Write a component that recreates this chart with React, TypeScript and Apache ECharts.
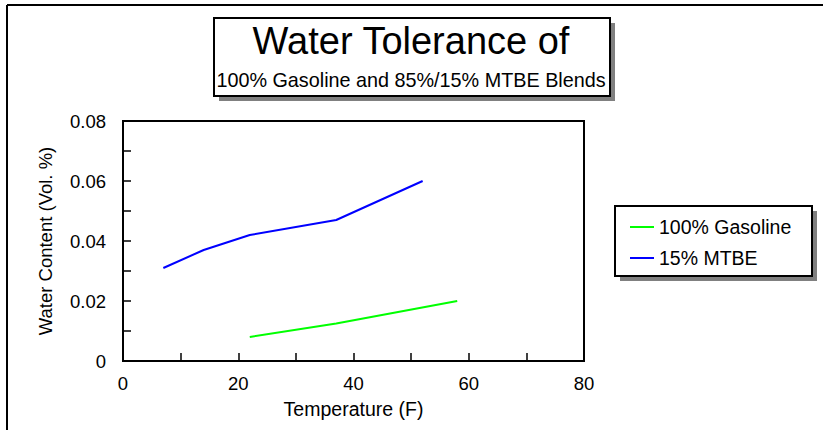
import React, { useEffect, useRef } from "react";
import * as echarts from "echarts";

const titleText = "Water Tolerance of";
const subtitleText = "100% Gasoline and 85%/15% MTBE Blends";
const xAxisName = "Temperature (F)";
const yAxisName = "Water Content (Vol. %)";
const seriesNames = ["100% Gasoline", "15% MTBE"];
const seriesColors = ["#00ff00", "#0000ff"];
const gasolineData: [number, number][] = [
  [22, 0.008],
  [37, 0.0125],
  [58, 0.02],
];
const mtbeData: [number, number][] = [
  [7, 0.031],
  [14, 0.037],
  [22, 0.042],
  [37, 0.047],
  [52, 0.06],
];

const FONT = "'Liberation Sans', Arial, sans-serif";

export default function App() {
  const ref = useRef<HTMLDivElement>(null);
  useEffect(() => {
    document.body.style.margin = "0";
    const chart = echarts.init(ref.current!, undefined, { renderer: "svg" });
    chart.setOption({
      animation: false,
      backgroundColor: "#ffffff",
      textStyle: { fontFamily: FONT },
      grid: {
        left: 123,
        right: 239,
        top: 121,
        bottom: 69,
        show: true,
        borderColor: "#000",
        borderWidth: 2,
        backgroundColor: "transparent",
      },
      xAxis: {
        type: "value",
        min: 0,
        max: 80,
        interval: 10,
        name: xAxisName,
        nameLocation: "middle",
        nameGap: 38,
        nameTextStyle: { fontSize: 19.5, color: "#000", fontFamily: FONT },
        axisLine: { show: true, lineStyle: { color: "#000", width: 2 } },
        axisTick: { show: true, inside: true, length: 8, lineStyle: { color: "#000", width: 1.5 } },
        axisLabel: {
          color: "#000",
          fontSize: 18.5,
          margin: 13,
          fontFamily: FONT,
          formatter: (v: number) => (Math.round(v) % 20 === 0 ? String(v) : ""),
        },
        splitLine: { show: false },
      },
      yAxis: {
        type: "value",
        min: 0,
        max: 0.08,
        interval: 0.01,
        name: yAxisName,
        nameLocation: "middle",
        nameGap: 68,
        nameRotate: 90,
        nameTextStyle: { fontSize: 18.5, color: "#000", fontFamily: FONT },
        axisLine: { show: true, lineStyle: { color: "#000", width: 2 } },
        axisTick: { show: true, inside: true, length: 8, lineStyle: { color: "#000", width: 1.5 } },
        axisLabel: {
          color: "#000",
          fontSize: 18.5,
          margin: 17,
          fontFamily: FONT,
          formatter: (v: number) => {
            const k = Math.round(v * 100);
            if (k % 2 !== 0) return "";
            return k === 0 ? "0" : v.toFixed(2);
          },
        },
        splitLine: { show: false },
      },
      legend: {
        orient: "vertical",
        left: 624,
        top: 212,
        itemGap: 11,
        itemWidth: 24,
        itemHeight: 2,
        textStyle: { fontSize: 19.5, color: "#000", fontFamily: FONT },
        data: seriesNames,
      },
      graphic: [
        { type: "line", shape: { x1: 7, y1: 5, x2: 823, y2: 5 }, style: { stroke: "#000", lineWidth: 2 } },
        { type: "line", shape: { x1: 7, y1: 5, x2: 7, y2: 430 }, style: { stroke: "#000", lineWidth: 2 } },
        { type: "rect", shape: { x: 219, y: 23, width: 396, height: 78 }, style: { fill: "#808080" }, z: 10 },
        { type: "rect", shape: { x: 214, y: 18, width: 396, height: 78 }, style: { fill: "#fff", stroke: "#000", lineWidth: 2 }, z: 11 },
        {
          type: "text",
          x: 411,
          y: 41,
          z: 12,
          style: { text: titleText, fontSize: 38, fontFamily: FONT, fill: "#000", align: "center", verticalAlign: "middle" },
        },
        {
          type: "text",
          x: 411,
          y: 80,
          z: 12,
          style: { text: subtitleText, fontSize: 19.8, fontFamily: FONT, fill: "#000", align: "center", verticalAlign: "middle" },
        },
        { type: "rect", shape: { x: 620, y: 211, width: 197, height: 70 }, style: { fill: "#808080" }, z: 0 },
        { type: "rect", shape: { x: 615, y: 206, width: 197, height: 70 }, style: { fill: "#fff", stroke: "#000", lineWidth: 2 }, z: 1 },
      ],
      series: [
        {
          name: seriesNames[0],
          type: "line",
          data: gasolineData,
          symbol: "none",
          color: seriesColors[0],
          lineStyle: { color: seriesColors[0], width: 2 },
          z: 5,
        },
        {
          name: seriesNames[1],
          type: "line",
          data: mtbeData,
          symbol: "none",
          color: seriesColors[1],
          lineStyle: { color: seriesColors[1], width: 2 },
          z: 5,
        },
      ],
    });
    return () => chart.dispose();
  }, []);
  return <div ref={ref} style={{ width: 823, height: 430 }} />;
}
